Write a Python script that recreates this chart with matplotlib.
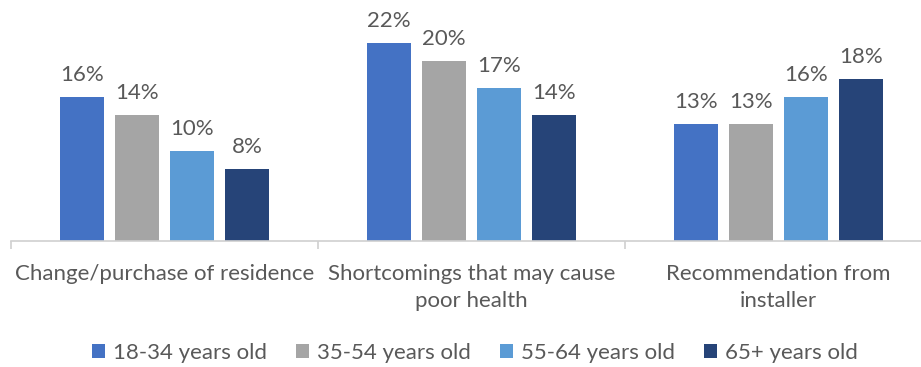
import matplotlib
matplotlib.use("Agg")
import matplotlib.pyplot as plt
from matplotlib.patches import Patch
import numpy as np

categories = ["Change/purchase of residence",
              "Shortcomings that may cause\npoor health",
              "Recommendation from\ninstaller"]
series_names = ["18-34 years old", "35-54 years old", "55-64 years old", "65+ years old"]
series_values = [
    [16, 22, 13],
    [14, 20, 13],
    [10, 17, 16],
    [8, 14, 18],
]
colors = ["#4472C4", "#A5A5A5", "#5B9BD5", "#264478"]

plt.rcParams["font.family"] = ["Lato", "DejaVu Sans"]
text_color = "#595959"
fs = 16

W, H = 921, 367
fig = plt.figure(figsize=(W / 100, H / 100), dpi=100)
# axes spans from the first category boundary to beyond the right edge
left_px, right_px, base_px, top_px = 11, 932, 241, 16
ax = fig.add_axes([left_px / W, (H - base_px) / H,
                   (right_px - left_px) / W, (base_px - top_px) / H])

x = np.arange(len(categories))
step = 0.179
width = 0.143
for j, (name, vals, c) in enumerate(zip(series_names, series_values, colors)):
    pos = x + (j - 1.5) * step
    bars = ax.bar(pos, vals, width=width, color=c, label=name)
    for b, v in zip(bars, vals):
        ax.text(b.get_x() + b.get_width() / 2, v + 1.3, f"{v}%",
                ha="center", va="bottom", fontsize=fs, color=text_color)

ax.set_xlim(-0.5, 2.5)
ax.set_ylim(0, 25)
ax.set_yticks([])
for s in ["top", "right", "left"]:
    ax.spines[s].set_visible(False)
ax.spines["bottom"].set_color("#D0D0D0")
ax.spines["bottom"].set_linewidth(1.2)

# category boundaries as ticks
ax.set_xticks([-0.5, 0.5, 1.5, 2.5])
ax.set_xticklabels([])
ax.tick_params(axis="x", length=6, color="#D0D0D0", width=1.2)
for i, cat in enumerate(categories):
    ax.text(i, -2.55, cat, ha="center", va="top", fontsize=fs,
            color=text_color, linespacing=1.42)

handles = [Patch(facecolor=c, edgecolor="none") for c in colors]
fig.legend(handles, series_names, loc="center", bbox_to_anchor=(475 / W, 14 / H),
           ncol=4, frameon=False, fontsize=fs, labelcolor=text_color,
           handlelength=0.6, handleheight=0.6, handletextpad=0.35,
           columnspacing=1.3)

fig.savefig("out.png", dpi=100)
